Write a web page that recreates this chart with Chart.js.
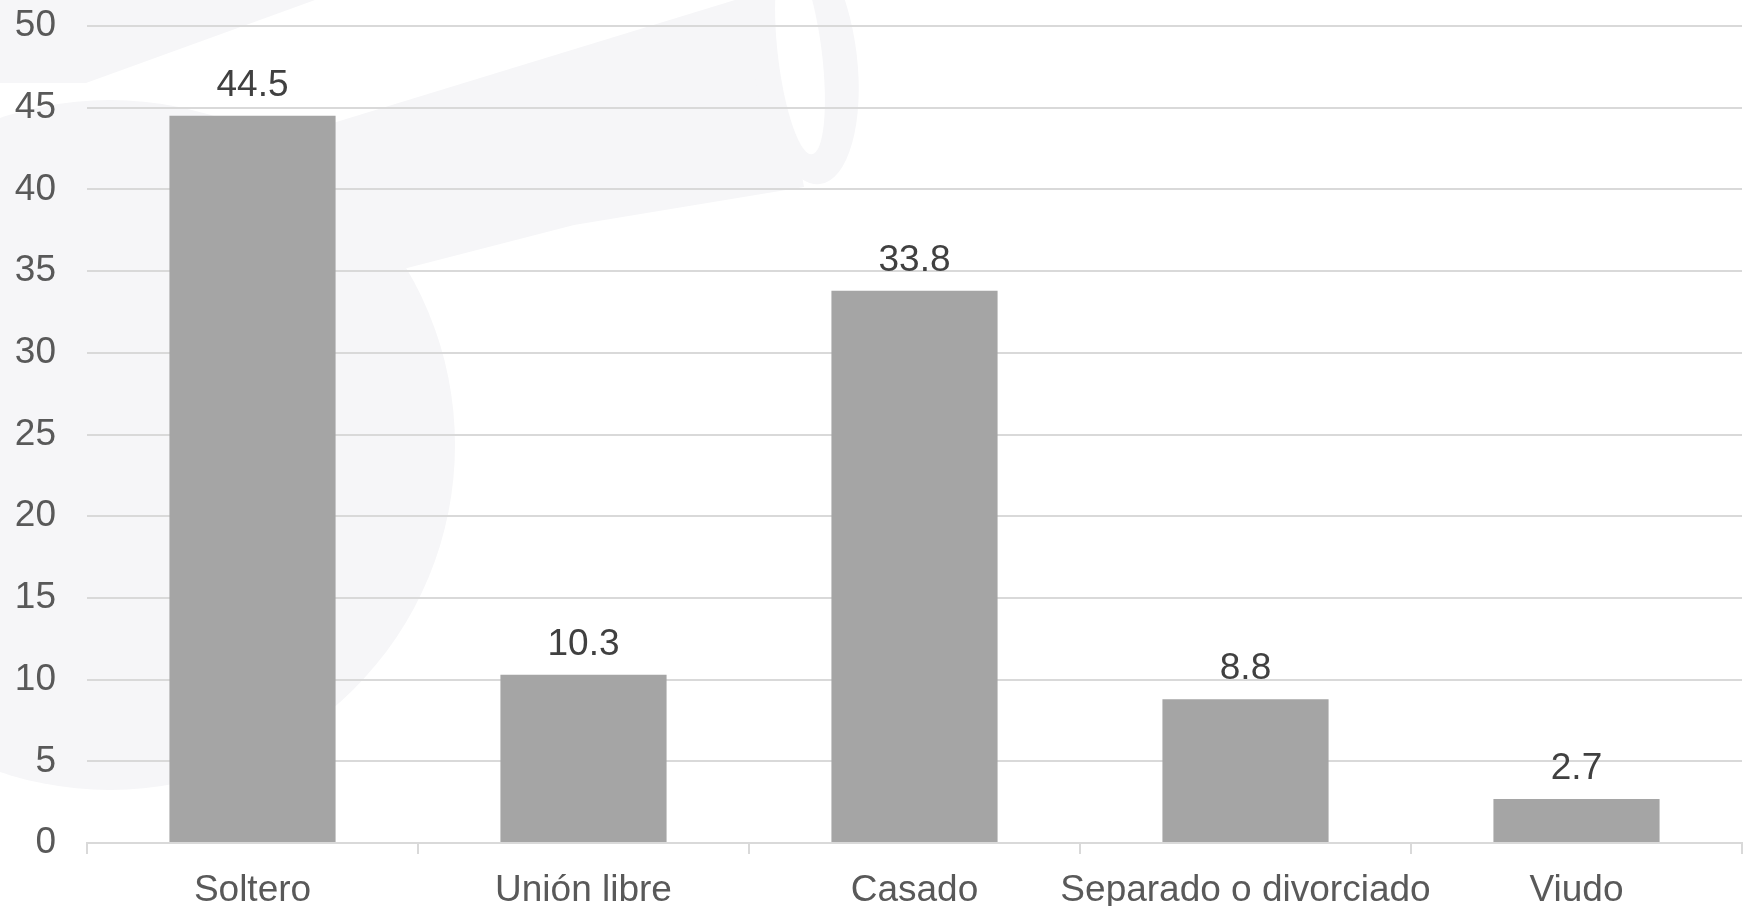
<!DOCTYPE html>
<html>
<head>
<meta charset="utf-8">
<script src="https://cdn.jsdelivr.net/npm/chart.js@4.4.0/dist/chart.umd.min.js"></script>
<style>
  html, body { margin: 0; padding: 0; background: #ffffff; overflow: hidden; }
  #wrap { width: 1744px; height: 906px; position: relative; }
</style>
</head>
<body>
<div id="wrap"><canvas id="c"></canvas></div>
<script>
const categories = ["Soltero", "Unión libre", "Casado", "Separado o divorciado", "Viudo"];
const values = [44.5, 10.3, 33.8, 8.8, 2.7];
const yTicks = [0, 5, 10, 15, 20, 25, 30, 35, 40, 45, 50];

const FONT = "'Liberation Sans', Arial, sans-serif";
const FS = 37;

// faint decorative watermark behind the chart
const watermark = {
  id: 'watermark',
  beforeDraw(chart) {
    const ctx = chart.ctx;
    ctx.save();
    ctx.fillStyle = '#F6F6F8';
    ctx.beginPath();
    ctx.arc(110, 445, 345, 0, Math.PI * 2);
    ctx.fill();
    ctx.beginPath();
    ctx.moveTo(0, 0);
    ctx.lineTo(315, 0);
    ctx.lineTo(86, 83);
    ctx.lineTo(0, 83);
    ctx.closePath();
    ctx.fill();
    ctx.beginPath();
    ctx.moveTo(250, 175);
    ctx.lineTo(320, 127);
    ctx.lineTo(735, 0);
    ctx.lineTo(770, 0);
    ctx.lineTo(804, 187);
    ctx.lineTo(574, 225);
    ctx.lineTo(380, 275);
    ctx.closePath();
    ctx.fill();
    ctx.beginPath();
    ctx.ellipse(805, 60, 52, 125, -0.12, 0, Math.PI * 2);
    ctx.fill();
    ctx.fillStyle = '#FFFFFF';
    ctx.beginPath();
    ctx.ellipse(800, 55, 22, 100, -0.12, 0, Math.PI * 2);
    ctx.fill();
    ctx.restore();
  }
};

const dataLabels = {
  id: 'dataLabels',
  afterDatasetsDraw(chart) {
    const ctx = chart.ctx;
    const meta = chart.getDatasetMeta(0);
    ctx.save();
    ctx.font = FS + "px " + FONT;
    ctx.fillStyle = "#404040";
    ctx.textAlign = "center";
    ctx.textBaseline = "alphabetic";
    meta.data.forEach((bar, i) => {
      ctx.fillText(String(values[i]), bar.x, bar.y - 20);
    });
    ctx.restore();
  }
};

new Chart(document.getElementById('c'), {
  type: 'bar',
  data: {
    labels: categories,
    datasets: [{
      data: values,
      backgroundColor: '#A5A5A5',
      borderWidth: 0,
      categoryPercentage: 1.0,
      barPercentage: 0.502
    }]
  },
  options: {
    responsive: true,
    maintainAspectRatio: false,
    animation: false,
    layout: { padding: { top: 26, left: 0, right: 2, bottom: 0 } },
    plugins: { legend: { display: false }, tooltip: { enabled: false } },
    scales: {
      x: {
        grid: {
          display: true,
          drawOnChartArea: false,
          drawTicks: true,
          tickLength: 11,
          color: '#D9D9D9',
          lineWidth: 2,
          offset: true
        },
        border: { display: true, color: '#D9D9D9', width: 2 },
        ticks: {
          color: '#595959',
          font: { family: FONT, size: FS },
          padding: 15,
          maxRotation: 0,
          autoSkip: false
        },
        afterFit(scale) { scale.height = 63; }
      },
      y: {
        min: 0,
        max: 50,
        afterBuildTicks(scale) { scale.ticks = yTicks.map(v => ({ value: v })); },
        grid: {
          color: '#D9D9D9',
          lineWidth: 2,
          drawTicks: false
        },
        border: { display: false },
        ticks: {
          color: '#595959',
          font: { family: FONT, size: FS },
          padding: 31
        },
        afterFit(scale) {
          scale.width = 87;
          scale.paddingTop = 0;
          scale.paddingBottom = 0;
        }
      }
    }
  },
  plugins: [watermark, dataLabels]
});
</script>
</body>
</html>
